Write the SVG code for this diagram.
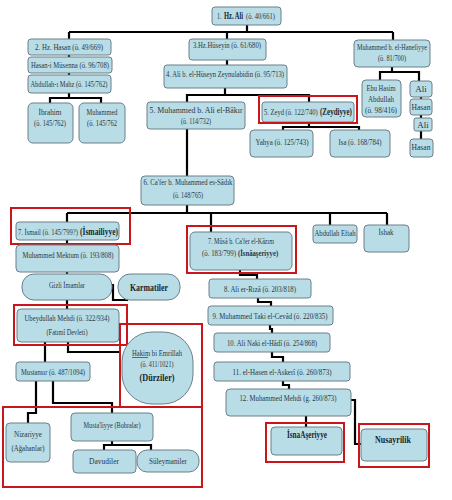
<svg xmlns="http://www.w3.org/2000/svg" width="452" height="500" viewBox="0 0 452 500">
<style>
.b{fill:#b8dde7;stroke:#6d7f88;stroke-width:1}
.t{font-family:"Liberation Serif","Times New Roman",serif;font-size:9px;fill:#2a3644;text-anchor:middle}
.s{text-anchor:start}
.k{font-weight:bold;font-size:10.5px;fill:#1c2530}
.c{fill:none;stroke:#000;stroke-width:2.2}
.r{fill:none;stroke:#c8161d;stroke-width:2}
</style>
<rect width="452" height="500" fill="#fff"/>
<g id="connectors">
<path class="c" d="M247,25V32M69,32H393M69,32V39M227,32V39M393,32V40"/>
<path class="c" d="M69,55V57M69,73V75M69,93V98M50,103V98H101V103"/>
<path class="c" d="M227,60V65M225,88V95M187,102V95H309V102"/>
<path class="c" d="M309,122V127M283,130V127H359V130"/>
<path class="c" d="M392,67V72M380,80V72H419V81M421,97V99M421,131V139"/>
<path class="c" stroke-width="3" d="M421,115V118"/>
<path class="c" d="M187,129V176M187,205V213"/>
<path class="c" stroke-width="3.2" d="M67,213H387"/>
<path class="c" d="M67,213V222M211,213V232M330,213V225M387,213V225"/>
<path class="c" d="M67,240V245M67,272V274M67,300V309M113,284V300H128"/>
<path class="c" d="M45,342V362M68,342V352H121"/>
<path class="c" d="M36,381V413H28V423M53,381V403H112V413"/>
<path class="c" d="M112,441V445M104,450V445H151V450"/>
<path class="c" d="M240,270V275H257V279M258,298V302H271V306M270,325V329H272V333M272,352V357H283V362M283,381V385H289V389M306,416V427M351,400H355V444H361"/>
</g>
<g id="n1"><rect class="b" x="212" y="7" width="69" height="18" rx="3"/><text class="t s" transform="translate(217,19) scale(0.68,1)">1.</text><text class="t s k" font-size="9.5" transform="translate(224,19) scale(0.68,1)" textLength="28" lengthAdjust="spacingAndGlyphs">Hz. Ali</text><text class="t s" transform="translate(246,19) scale(0.68,1)" textLength="42.6" lengthAdjust="spacingAndGlyphs">(ö. 40/661)</text></g>
<g id="n2"><rect class="b" x="28" y="39" width="83" height="16" rx="3"/><text class="t" x="69" y="50" textLength="68" lengthAdjust="spacingAndGlyphs">2. Hz. Hasan (ö. 49/669)</text></g>
<g id="n2a"><rect class="b" x="28" y="57" width="84" height="16" rx="3"/><text class="t" x="70" y="68" textLength="78" lengthAdjust="spacingAndGlyphs">Hasan-i Müsenna (ö. 96/708)</text></g>
<g id="n2b"><rect class="b" x="28" y="75" width="83" height="18" rx="3"/><text class="t" x="69" y="87" textLength="77" lengthAdjust="spacingAndGlyphs">Abdullah-ı Mahz (ö. 145/762)</text></g>
<g id="n2c"><rect class="b" x="28" y="103" width="45" height="40" rx="5"/><text class="t" x="50" y="115" textLength="23" lengthAdjust="spacingAndGlyphs">İbrahim</text><text class="t" x="50" y="126" textLength="32" lengthAdjust="spacingAndGlyphs">(ö. 145/762)</text></g>
<g id="n2d"><rect class="b" x="79" y="103" width="46" height="40" rx="5"/><text class="t" x="102" y="115" textLength="31" lengthAdjust="spacingAndGlyphs">Muhammed</text><text class="t" x="102" y="126" textLength="30" lengthAdjust="spacingAndGlyphs">(ö. 145/762</text></g>
<g id="n3"><rect class="b" x="189" y="39" width="77" height="21" rx="3"/><text class="t" x="227" y="48" textLength="68" lengthAdjust="spacingAndGlyphs">3.Hz.Hüseyin (ö. 61/680)</text></g>
<g id="n4"><rect class="b" x="164" y="65" width="123" height="23" rx="3"/><text class="t" x="225" y="77" textLength="118" lengthAdjust="spacingAndGlyphs">4. Ali b. el-Hüseyn Zeynulabidin (ö. 95/713)</text></g>
<g id="n5"><rect class="b" x="147" y="102" width="98" height="27" rx="3"/><text class="t" x="196" y="113" textLength="93" lengthAdjust="spacingAndGlyphs">5. Muhammed b. Ali el-Bâkır</text><text class="t" x="196" y="124" textLength="30" lengthAdjust="spacingAndGlyphs">(ö. 114/732)</text></g>
<g id="n5z"><rect class="b" x="262" y="102" width="92" height="20" rx="3"/><rect class="r" x="259" y="96" width="98" height="27"/><text class="t s" transform="translate(264,115) scale(0.68,1)" textLength="79" lengthAdjust="spacingAndGlyphs">5. Zeyd (ö. 122/740)</text><text class="t s k" transform="translate(320,115) scale(0.68,1)" textLength="47" lengthAdjust="spacingAndGlyphs">(Zeydiyye)</text></g>
<g id="nyahya"><rect class="b" x="250" y="130" width="63" height="27" rx="4"/><text class="t" x="282" y="145" textLength="53" lengthAdjust="spacingAndGlyphs">Yahya (ö. 125/743)</text></g>
<g id="nisa"><rect class="b" x="330" y="130" width="60" height="27" rx="4"/><text class="t" x="360" y="145" textLength="43" lengthAdjust="spacingAndGlyphs">Isa (ö. 168/784)</text></g>
<g id="nhan"><rect class="b" x="354" y="40" width="76" height="27" rx="4"/><text class="t" transform="translate(392,50) scale(0.68,1)" textLength="103" lengthAdjust="spacingAndGlyphs">Muhammed b. el-Hanefiyye</text><text class="t" x="392" y="61" textLength="28" lengthAdjust="spacingAndGlyphs">(ö. 81/700)</text></g>
<g id="nebu"><rect class="b" x="362" y="80" width="39" height="37" rx="4"/><text class="t" x="381" y="91" textLength="29" lengthAdjust="spacingAndGlyphs">Ebu Hasim</text><text class="t" x="381" y="102" textLength="26" lengthAdjust="spacingAndGlyphs">Abdullah</text><text class="t" x="381" y="113" textLength="32" lengthAdjust="spacingAndGlyphs">(ö. 98/416)</text></g>
<g id="nali2"><rect class="b" x="410" y="81" width="22" height="16" rx="3"/><text class="t" x="421" y="92">Ali</text></g>
<g id="nhasan2"><rect class="b" x="410" y="99" width="22" height="16" rx="3"/><text class="t" x="421" y="110" textLength="19" lengthAdjust="spacingAndGlyphs">Hasan</text></g>
<g id="nali3"><rect class="b" x="414" y="118" width="18" height="13" rx="2"/><text class="t" x="423" y="128">Ali</text></g>
<g id="nhasan3"><rect class="b" x="410" y="139" width="23" height="18" rx="3"/><text class="t" x="421" y="150" textLength="19" lengthAdjust="spacingAndGlyphs">Hasan</text></g>
<g id="n6"><rect class="b" x="141" y="176" width="93" height="29" rx="4"/><text class="t" x="188" y="185" textLength="89" lengthAdjust="spacingAndGlyphs">6. Ca'fer b. Muhammed es-Sâdık</text><text class="t" x="188" y="198" textLength="30" lengthAdjust="spacingAndGlyphs">(ö. 148/765)</text></g>
<g id="n7i"><rect class="b" x="16" y="222" width="103" height="18" rx="3"/><rect class="r" x="11" y="208" width="119" height="36"/><text class="t s" transform="translate(18,235) scale(0.68,1)" textLength="88" lengthAdjust="spacingAndGlyphs">7. İsmail (ö. 145/799?)</text><text class="t s k" transform="translate(80,235) scale(0.68,1)" textLength="56" lengthAdjust="spacingAndGlyphs">(İsmailiyye)</text></g>
<g id="nmektum"><rect class="b" x="16" y="245" width="103" height="27" rx="4"/><text class="t" x="68" y="258" textLength="91" lengthAdjust="spacingAndGlyphs">Muhammed Mektum (ö. 193/808)</text></g>
<g id="ngizli"><rect class="b" x="22" y="274" width="90" height="26" rx="12"/><text class="t" x="67" y="288" textLength="36" lengthAdjust="spacingAndGlyphs">Gizli İmamlar</text></g>
<g id="nkarmat"><rect class="b" x="118" y="274" width="62" height="26" rx="12"/><text class="t k" x="149" y="291" font-size="11.5" textLength="38" lengthAdjust="spacingAndGlyphs">Karmatiler</text></g>
<g id="nubeyd"><rect class="b" x="17" y="309" width="102" height="33" rx="4"/><rect class="r" x="14" y="305" width="113" height="40"/><text class="t" x="67" y="321" textLength="85" lengthAdjust="spacingAndGlyphs">Ubeydullah Mehdi (ö. 322/934)</text><text class="t" x="67" y="335" textLength="41" lengthAdjust="spacingAndGlyphs">(Fatımî Devleti)</text></g>
<g id="nhakim"><rect class="b" x="122" y="332" width="71" height="72" rx="30"/><rect class="r" x="120" y="324" width="82" height="83"/><text class="t" x="157" y="356" textLength="50" lengthAdjust="spacingAndGlyphs">Hakim bi Emrillah</text><line x1="132" y1="357.5" x2="148" y2="357.5" stroke="#2a3644" stroke-width="0.7"/><text class="t" x="157" y="367" textLength="33" lengthAdjust="spacingAndGlyphs">(ö. 411/1021)</text><text class="t k" x="157" y="381" font-size="11" textLength="35" lengthAdjust="spacingAndGlyphs">(Dürziler)</text></g>
<g id="nmustansir"><rect class="b" x="16" y="362" width="74" height="19" rx="3"/><text class="t" x="53" y="375" textLength="64" lengthAdjust="spacingAndGlyphs">Mustansır (ö. 487/1094)</text></g>
<g id="nnizar"><rect class="b" x="6" y="423" width="44" height="39" rx="4"/><text class="t" x="28" y="437" textLength="28" lengthAdjust="spacingAndGlyphs">Nizariyye</text><text class="t" x="28" y="451" textLength="33" lengthAdjust="spacingAndGlyphs">(Ağahanlar)</text></g>
<g id="nmustali"><rect class="b" x="71" y="413" width="82" height="28" rx="4"/><text class="t" x="112" y="428" textLength="57" lengthAdjust="spacingAndGlyphs">Musta'liyye (Bohralar)</text></g>
<g id="ndavud"><rect class="b" x="73" y="450" width="63" height="23" rx="4"/><text class="t" x="104" y="464" textLength="30" lengthAdjust="spacingAndGlyphs">Davudiler</text></g>
<g id="nsuley"><rect class="b" x="137" y="450" width="62" height="22" rx="10"/><text class="t" x="168" y="464" textLength="38" lengthAdjust="spacingAndGlyphs">Süleymaniler</text></g>
<g id="ismailiFrame"><rect class="r" x="3" y="407" width="199" height="80"/></g>
<g id="n7m"><rect class="b" x="190" y="232" width="102" height="38" rx="5"/><rect class="r" x="187" y="226" width="109" height="47"/><text class="t" x="241" y="244" textLength="66" lengthAdjust="spacingAndGlyphs">7. Mûsâ b. Ca'fer el-Kâzım</text><text class="t s" transform="translate(202,256) scale(0.68,1)" textLength="50" lengthAdjust="spacingAndGlyphs">(ö. 183/799)</text><text class="t s" font-weight="bold" transform="translate(238,256) scale(0.68,1)" textLength="59" lengthAdjust="spacingAndGlyphs">(İsnâaşeriyye)</text></g>
<g id="neftah"><rect class="b" x="313" y="225" width="44" height="18" rx="3"/><text class="t" x="335" y="236" textLength="41" lengthAdjust="spacingAndGlyphs">Abdullah Eftah</text></g>
<g id="nishak"><rect class="b" x="364" y="225" width="45" height="27" rx="4"/><text class="t" x="386" y="235" textLength="15" lengthAdjust="spacingAndGlyphs">İshak</text></g>
<g id="n8"><rect class="b" x="209" y="279" width="102" height="19" rx="3"/><text class="t" x="260" y="292" textLength="72" lengthAdjust="spacingAndGlyphs">8. Ali er-Rızâ (ö. 203/818)</text></g>
<g id="n9"><rect class="b" x="208" y="306" width="125" height="19" rx="3"/><text class="t" x="270" y="319" textLength="115" lengthAdjust="spacingAndGlyphs">9. Muhammed Taki el-Cevâd (ö. 220/835)</text></g>
<g id="n10"><rect class="b" x="214" y="333" width="116" height="19" rx="3"/><text class="t" x="272" y="346" textLength="90" lengthAdjust="spacingAndGlyphs">10. Ali Naki el-Hâdî (ö. 254/868)</text></g>
<g id="n11"><rect class="b" x="214" y="362" width="136" height="19" rx="3"/><text class="t" x="282" y="375" textLength="99" lengthAdjust="spacingAndGlyphs">11. el-Hasen el-Askerî (ö. 260/873)</text></g>
<g id="n12"><rect class="b" x="226" y="389" width="125" height="27" rx="4"/><text class="t" x="288" y="401" textLength="97" lengthAdjust="spacingAndGlyphs">12. Muhammed Mehdi (g. 260/873)</text></g>
<g id="nisna"><rect class="b" x="271" y="427" width="71" height="28" rx="4"/><rect class="r" x="266" y="423" width="78" height="39"/><text class="t k" x="307" y="438" textLength="40" lengthAdjust="spacingAndGlyphs">İsnaAşeriyye</text></g>
<g id="nnusay"><rect class="b" x="361" y="429" width="66" height="32" rx="4"/><rect class="r" x="359" y="424" width="70" height="43"/><text class="t k" x="393" y="443" textLength="36" lengthAdjust="spacingAndGlyphs">Nusayrilik</text></g>
</svg>
